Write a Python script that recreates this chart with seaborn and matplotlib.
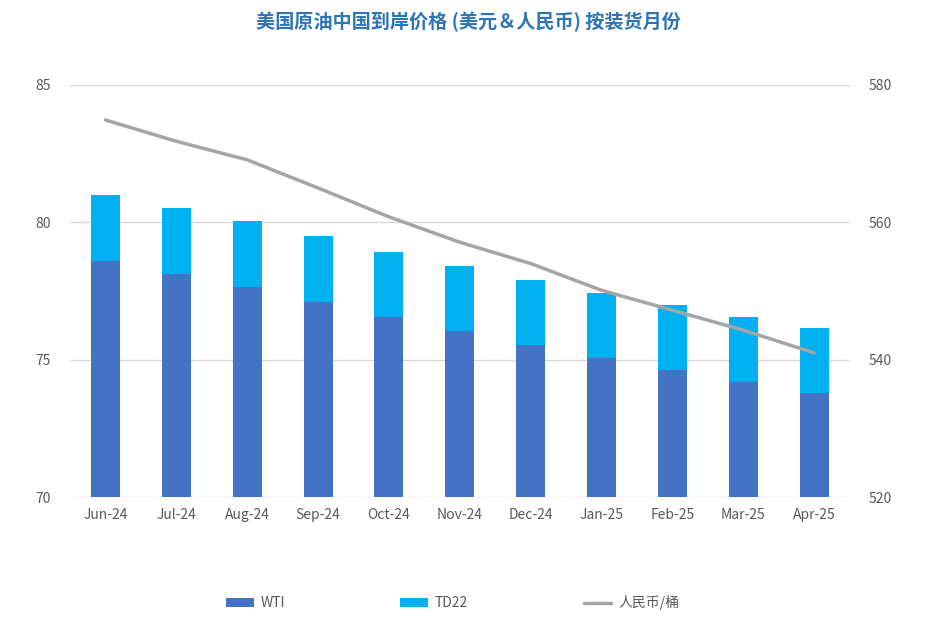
import numpy as np
import pandas as pd
import matplotlib
matplotlib.use("Agg")
import matplotlib.pyplot as plt
import seaborn as sns
from matplotlib.patches import Patch
from matplotlib.lines import Line2D

months = ['Jun-24', 'Jul-24', 'Aug-24', 'Sep-24', 'Oct-24', 'Nov-24',
          'Dec-24', 'Jan-25', 'Feb-25', 'Mar-25', 'Apr-25']
wti = [78.60, 78.13, 77.65, 77.10, 76.55, 76.06, 75.54, 75.06, 74.63, 74.19, 73.80]
td22 = [2.40, 2.39, 2.40, 2.40, 2.37, 2.35, 2.36, 2.36, 2.36, 2.35, 2.35]
rmb = [574.9, 571.8, 569.1, 565.0, 560.8, 557.1, 554.0, 550.1, 547.2, 544.3, 541.0]

sns.set_theme(style="white")
plt.rcParams['font.family'] = ['Noto Sans CJK SC', 'DejaVu Sans']

df = pd.DataFrame({'month': months, 'wti': wti, 'td22': td22, 'rmb': rmb})
df['total'] = df['wti'] + df['td22']
df['pos'] = np.arange(len(df))

c_wti = '#4472C4'
c_td = '#00B0F0'
c_line = '#A5A5A5'
c_text = '#595959'

fig = plt.figure(figsize=(9.37, 6.34), dpi=100)
ax = fig.add_axes([0.0747, 0.216, 0.832, 0.650])

sns.barplot(data=df, x='month', y='total', color=c_td, width=0.41,
            saturation=1, linewidth=0, ax=ax)
sns.barplot(data=df, x='month', y='wti', color=c_wti, width=0.41,
            saturation=1, linewidth=0, ax=ax)

ax.set_ylim(70, 85)
ax.set_yticks([70, 75, 80, 85])
ax.set_xlim(-0.5, len(months) - 0.5)
ax.yaxis.grid(True, color='#D9D9D9', linewidth=1)
ax.set_axisbelow(True)
for s in ax.spines.values():
    s.set_visible(False)
ax.set_xlabel('')
ax.set_ylabel('')
ax.tick_params(axis='both', length=0, labelsize=10, labelcolor=c_text, pad=8)
ax.tick_params(axis='y', pad=14)

ax2 = ax.twinx()
sns.lineplot(data=df, x='pos', y='rmb', color=c_line, linewidth=2.5,
             sort=False, ax=ax2)
ax2.set_ylim(520, 580)
ax2.set_yticks([520, 540, 560, 580])
ax2.set_xlim(-0.5, len(months) - 0.5)
for s in ax2.spines.values():
    s.set_visible(False)
ax2.set_xlabel('')
ax2.set_ylabel('')
ax2.tick_params(axis='y', length=0, labelsize=10, labelcolor=c_text, pad=14)
ax2.grid(False)

fig.text(0.5, 0.965, '美国原油中国到岸价格 (美元＆人民币) 按装货月份',
         ha='center', va='center', fontsize=13.8, fontweight='bold',
         color='#2E75B6')

handles = [Patch(facecolor=c_wti, edgecolor='none'),
           Patch(facecolor=c_td, edgecolor='none'),
           Line2D([0], [0], color=c_line, linewidth=2.5)]
fig.legend(handles, ['WTI', 'TD22', '人民币/桶'], loc='center',
           bbox_to_anchor=(0.483, 0.049), ncol=3, frameon=False,
           fontsize=10, labelcolor=c_text, handlelength=2.0,
           handleheight=0.6, columnspacing=8.3, handletextpad=0.5)

fig.savefig('out.png', dpi=100)
